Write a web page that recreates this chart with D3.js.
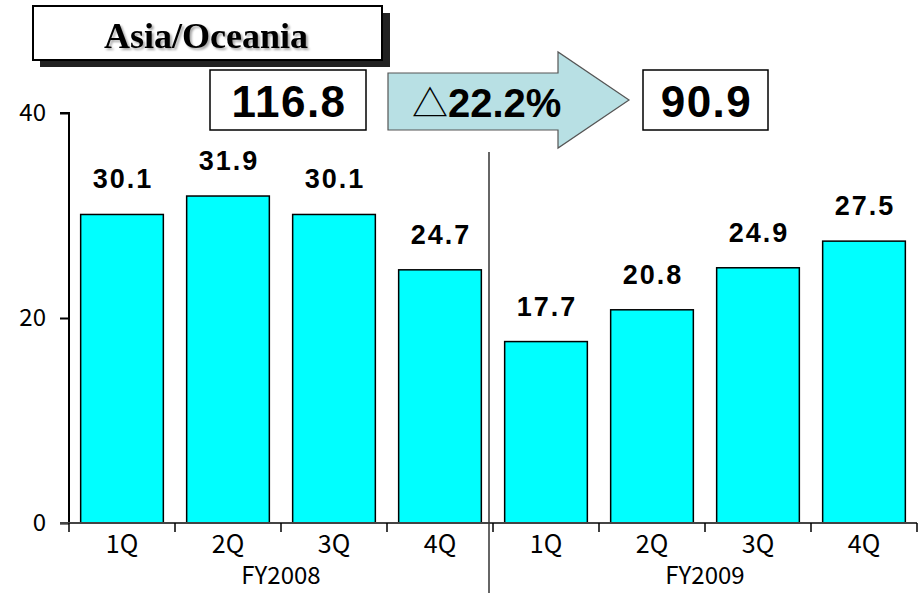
<!DOCTYPE html>
<html lang="en">
<head>
<meta charset="UTF-8">
<title>Asia/Oceania</title>
<script src="https://d3js.org/d3.v7.min.js"></script>
<style>
  body { margin: 0; background: #fff; }
</style>
</head>
<body>
<div id="chart"></div>
<script>
    // quarterly figures, two fiscal years
    const quarters = ['1Q', '2Q', '3Q', '4Q', '1Q', '2Q', '3Q', '4Q'];
    const fiscalYears = ['FY2008', 'FY2009'];
    const values = [30.1, 31.9, 30.1, 24.7, 17.7, 20.8, 24.9, 27.5];
    const yTicks = [0, 20, 40];
    const totalBefore = '116.8', totalAfter = '90.9', changePct = '22.2%';

    const width = 923, height = 593;
    const svg = d3.select('#chart').append('svg')
        .attr('width', width)
        .attr('height', height);

    // soft shadow for the title text
    const defs = svg.append('defs');
    defs.append('filter')
        .attr('id', 'title-shadow')
        .append('feDropShadow')
        .attr('dx', 2).attr('dy', 2)
        .attr('stdDeviation', 1)
        .attr('flood-color', '#000')
        .attr('flood-opacity', 0.35);

    const x = d3.scaleBand()
        .domain(d3.range(values.length))
        .range([69, 917])
        .paddingInner(0.22)
        .paddingOuter(0.11);

    const y = d3.scaleLinear().domain([0, 40]).range([523, 113]);

    const labelFont = '"Noto Sans CJK JP", "Liberation Sans", sans-serif';
    const boldFont = '"Liberation Sans", Arial, sans-serif';

    // bars
    svg.append('g')
        .selectAll('rect')
        .data(values)
        .enter()
        .append('rect')
        .attr('x', (d, i) => x(i))
        .attr('width', x.bandwidth())
        .attr('y', d => y(d))
        .attr('height', d => y(0) - y(d))
        .attr('fill', '#00ffff')
        .attr('stroke', '#000')
        .attr('stroke-width', 1.5);

    // value labels
    svg.append('g')
        .selectAll('text')
        .data(values)
        .enter()
        .append('text')
        .attr('x', (d, i) => x(i) + x.bandwidth() / 2 + 1)
        .attr('y', d => y(d) - 26)
        .attr('text-anchor', 'middle')
        .attr('font-family', boldFont)
        .attr('font-weight', 'bold')
        .attr('font-size', 27)
        .attr('letter-spacing', 2)
        .text(d => d.toFixed(1));

    // y axis
    const yAxis = svg.append('g')
        .attr('transform', 'translate(69,0)')
        .call(d3.axisLeft(y).tickValues(yTicks).tickSize(9).tickPadding(14));
    yAxis.select('.domain').attr('stroke-width', 2).attr('d', `M-9,${y(40)}H0V${y(0)}`);
    yAxis.selectAll('.tick line').attr('stroke-width', 2);
    yAxis.selectAll('.tick text')
        .attr('font-family', labelFont)
        .attr('font-size', 24)
        .attr('fill', '#000');

    // x axis: line with category boundary ticks
    const step = x.step();
    const bounds = d3.range(values.length + 1).map(i => x(0) - x.paddingOuter() * step + i * step);
    const xAxis = svg.append('g');
    xAxis.append('line')
        .attr('x1', 60).attr('x2', 917)
        .attr('y1', y(0)).attr('y2', y(0))
        .attr('stroke', '#444').attr('stroke-width', 2);
    xAxis.selectAll('.xtick')
        .data(bounds)
        .enter()
        .append('line')
        .attr('class', 'xtick')
        .attr('x1', d => d).attr('x2', d => d)
        .attr('y1', y(0)).attr('y2', y(0) + 9)
        .attr('stroke', '#000').attr('stroke-width', 1.5);

    xAxis.selectAll('.qlabel')
        .data(quarters)
        .enter()
        .append('text')
        .attr('class', 'qlabel')
        .attr('x', (d, i) => x(i) + x.bandwidth() / 2)
        .attr('y', 553)
        .attr('text-anchor', 'middle')
        .attr('font-family', labelFont)
        .attr('font-size', 25)
        .text(d => d);

    xAxis.selectAll('.fylabel')
        .data(fiscalYears)
        .enter()
        .append('text')
        .attr('class', 'fylabel')
        .attr('x', (d, i) => (x(i * 4) + x(i * 4 + 3) + x.bandwidth()) / 2)
        .attr('y', 584)
        .attr('text-anchor', 'middle')
        .attr('font-family', labelFont)
        .attr('font-size', 24)
        .text(d => d);

    // divider between fiscal years
    const midX = bounds[4] - 4;
    svg.append('line')
        .attr('x1', midX).attr('x2', midX)
        .attr('y1', 152).attr('y2', height)
        .attr('stroke', '#333').attr('stroke-width', 1.5);

    // title box with shadow
    svg.append('rect')
        .attr('x', 40).attr('y', 13).attr('width', 350).attr('height', 54)
        .attr('fill', '#222');
    svg.append('rect')
        .attr('x', 33).attr('y', 6).attr('width', 349).attr('height', 54)
        .attr('fill', '#fff').attr('stroke', '#000').attr('stroke-width', 2);
    svg.append('text')
        .attr('x', 206).attr('y', 48)
        .attr('text-anchor', 'middle')
        .attr('font-family', '"Liberation Serif", "Times New Roman", serif')
        .attr('font-weight', 'bold')
        .attr('font-size', 36)
        .attr('filter', 'url(#title-shadow)')
        .text('Asia/Oceania');

    // totals
    const totalBox = (bx, w, label) => {
        svg.append('rect')
            .attr('x', bx).attr('y', 70).attr('width', w).attr('height', 60)
            .attr('fill', '#fff').attr('stroke', '#000').attr('stroke-width', 1.5);
        svg.append('text')
            .attr('x', bx + w / 2 + 1).attr('y', 117)
            .attr('text-anchor', 'middle')
            .attr('font-family', boldFont)
            .attr('font-weight', 'bold')
            .attr('font-size', 44)
            .attr('letter-spacing', 1.5)
            .text(label);
    };
    totalBox(210, 156, totalBefore);
    totalBox(643, 125, totalAfter);

    // arrow
    const arrow = d3.path();
    arrow.moveTo(388, 73);
    arrow.lineTo(558, 73);
    arrow.lineTo(558, 52);
    arrow.lineTo(629, 100);
    arrow.lineTo(558, 148);
    arrow.lineTo(558, 130);
    arrow.lineTo(388, 130);
    arrow.closePath();
    svg.append('path')
        .attr('d', arrow.toString())
        .attr('fill', '#b8e0e4')
        .attr('stroke', '#555')
        .attr('stroke-width', 1.2);
    const changeText = svg.append('text')
        .attr('x', 412).attr('y', 117)
        .attr('font-family', boldFont)
        .attr('font-size', 40);
    changeText.append('tspan')
        .attr('font-family', '"Noto Sans CJK JP", "DejaVu Sans", sans-serif')
        .attr('font-size', 36)
        .text('△');
    changeText.append('tspan')
        .attr('font-weight', 'bold')
        .text(changePct);
</script>
</body>
</html>
